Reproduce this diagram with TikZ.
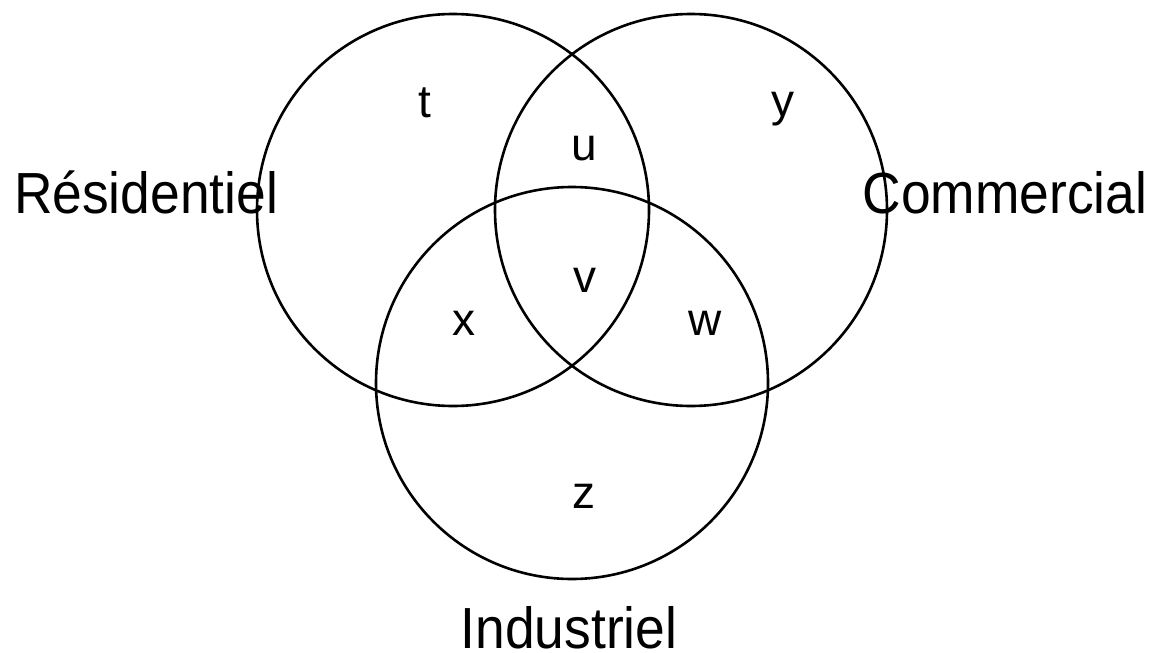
\documentclass[tikz,border=0pt]{standalone}
\usepackage{fontspec}
\setmainfont{Liberation Sans}
\newfontfamily\labelfont[FakeStretch=0.92]{Liberation Sans}
\begin{document}
\begin{tikzpicture}[x=1pt,y=-1pt,
  setcircle/.style={circle, draw=black, line width=2.6pt, minimum size=392pt, inner sep=0pt},
  setname/.style={anchor=base, inner sep=0pt, font=\labelfont\fontsize{58}{60}\selectfont},
  region/.style={anchor=base, inner sep=0pt, font=\fontsize{46}{50}\selectfont}]
  \useasboundingbox (0,0) rectangle (1149,653);
  % the three sets
  \node[setcircle] (res) at (453,210) {};
  \node[setcircle] (com) at (691,210) {};
  \node[setcircle] (ind) at (572,383) {};
  % set names
  \node[setname] (lres) at (146,213) {Résidentiel};
  \node[setname] (lcom) at (1005,213) {Commercial};
  \node[setname] (lind) at (569,648) {Industriel};
  % region labels
  \node[region] (t) at (425,117) {t};
  \node[region] (y) at (783,116) {y};
  \node[region] (u) at (584,160) {u};
  \node[region] (v) at (585,292) {v};
  \node[region] (x) at (464,335) {x};
  \node[region] (w) at (705,335) {w};
  \node[region] (z) at (584,508) {z};
\end{tikzpicture}
\end{document}
